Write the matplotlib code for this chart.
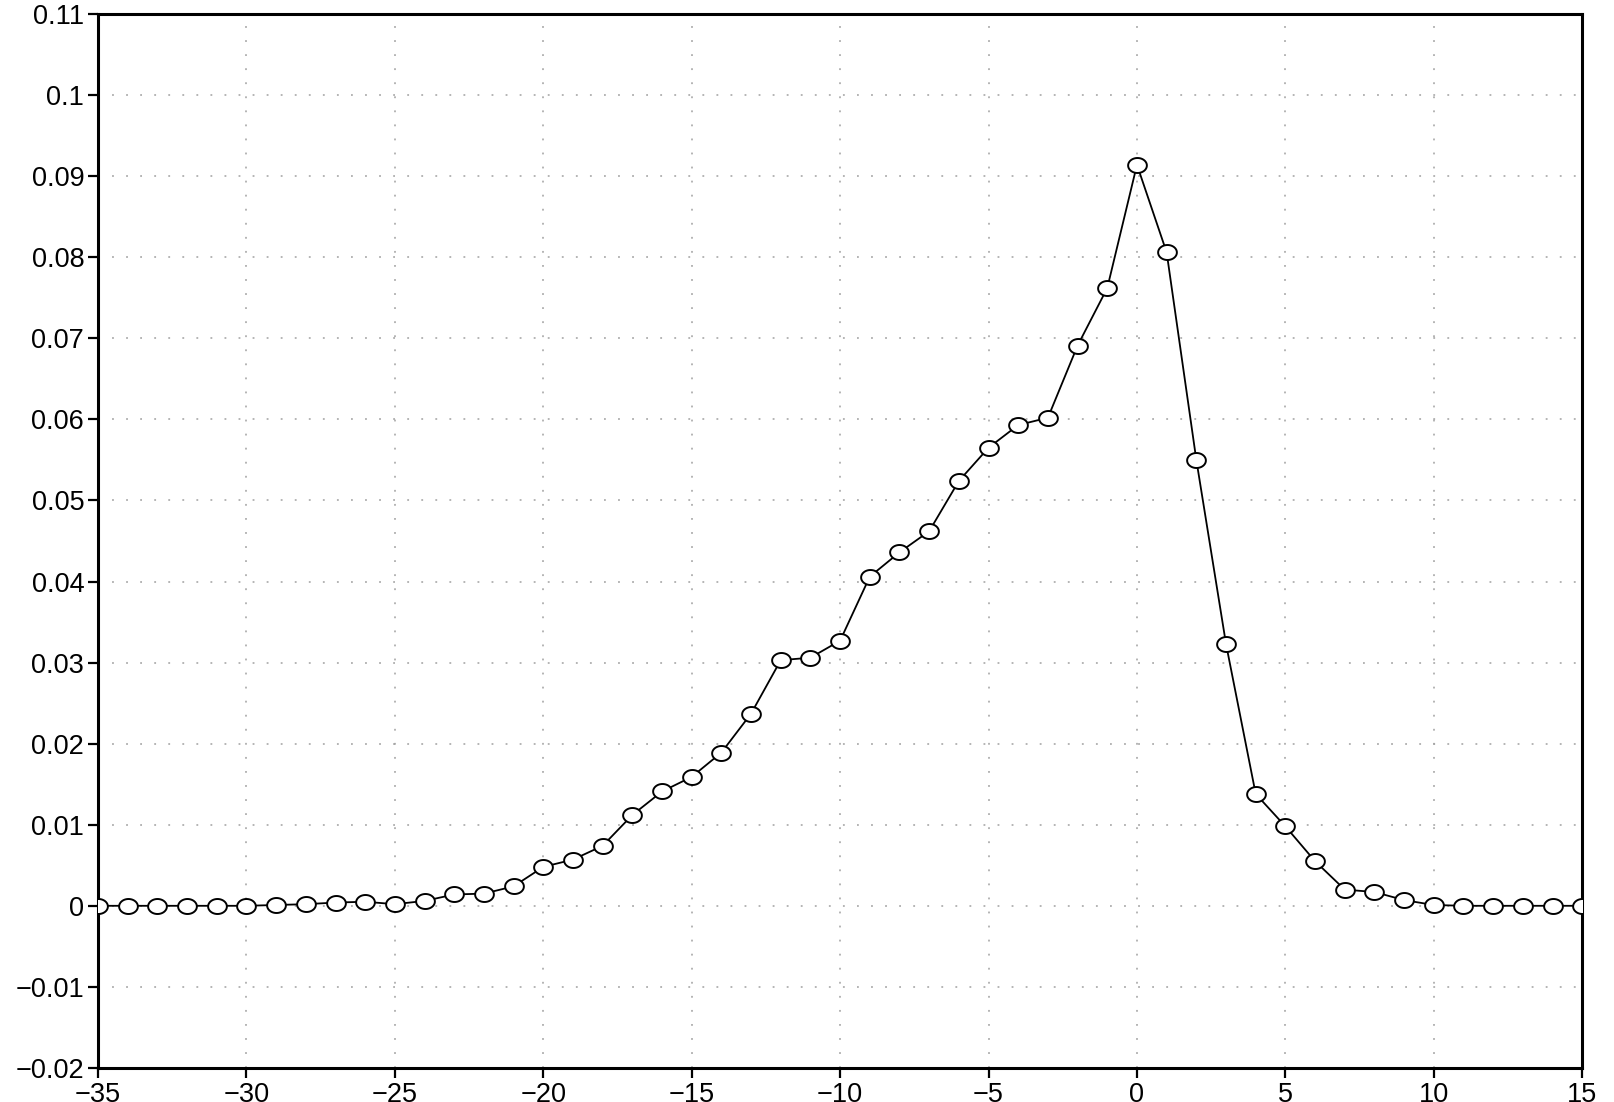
import matplotlib
matplotlib.use("Agg")
import matplotlib.pyplot as plt
import numpy as np
from matplotlib.path import Path

# Lag values (x) and the curve
lags = list(range(-35, 16))
values = [
    0.0, 0.0, 0.0, 0.0, 0.0, 0.0,            # -35 .. -30
    0.0001, 0.0002, 0.0004, 0.0005, 0.0002,  # -29 .. -25
    0.0006, 0.0014, 0.0015, 0.0024, 0.0048,  # -24 .. -20
    0.0057, 0.0074, 0.0112, 0.0141, 0.0159,  # -19 .. -15
    0.0189, 0.0237, 0.0303, 0.0306, 0.0327,  # -14 .. -10
    0.0406, 0.0436, 0.0462, 0.0524, 0.0565,  # -9 .. -5
    0.0593, 0.0602, 0.0691, 0.0762, 0.0914,  # -4 .. 0
    0.0806, 0.0550, 0.0323, 0.0138, 0.0098,  # 1 .. 5
    0.0055, 0.0020, 0.0017, 0.0007, 0.0001,  # 6 .. 10
    0.0, 0.0, 0.0, 0.0, 0.0,                 # 11 .. 15
]
x_ticks = list(range(-35, 20, 5))
y_ticks = [-0.02, -0.01, 0, 0.01, 0.02, 0.03, 0.04, 0.05, 0.06, 0.07, 0.08, 0.09, 0.1, 0.11]
y_labels = ["\u22120.02", "\u22120.01", "0", "0.01", "0.02", "0.03", "0.04", "0.05",
            "0.06", "0.07", "0.08", "0.09", "0.1", "0.11"]

plt.rcParams["font.family"] = ["Liberation Sans", "DejaVu Sans"]

# slightly flattened circle marker
theta = np.linspace(0, 2 * np.pi, 60)
ellipse = Path(np.column_stack([1.25 * np.cos(theta), np.sin(theta)]), closed=True)

fig = plt.figure(figsize=(16.15, 11.02), dpi=100)
ax = fig.add_axes([0.0607, 0.0309, 0.919, 0.9564])

ax.plot(lags, values, color="black", linewidth=1.3, marker=ellipse,
        markersize=13.5, markerfacecolor="white", markeredgecolor="black",
        markeredgewidth=1.4, zorder=3)

ax.set_xlim(-35, 15)
ax.set_ylim(-0.02, 0.11)
ax.set_xticks(x_ticks)
ax.set_xticklabels([str(t).replace("-", "\u2212") for t in x_ticks])
ax.set_yticks(y_ticks)
ax.set_yticklabels(y_labels)

ax.grid(True, color="#a0a0a0", linestyle=(0, (1.2, 8)), linewidth=1.1)
ax.tick_params(axis="both", direction="out", length=7, width=1.6, labelsize=19.5, pad=3)
for spine in ax.spines.values():
    spine.set_linewidth(2.2)

fig.savefig("out.png", dpi=100)
